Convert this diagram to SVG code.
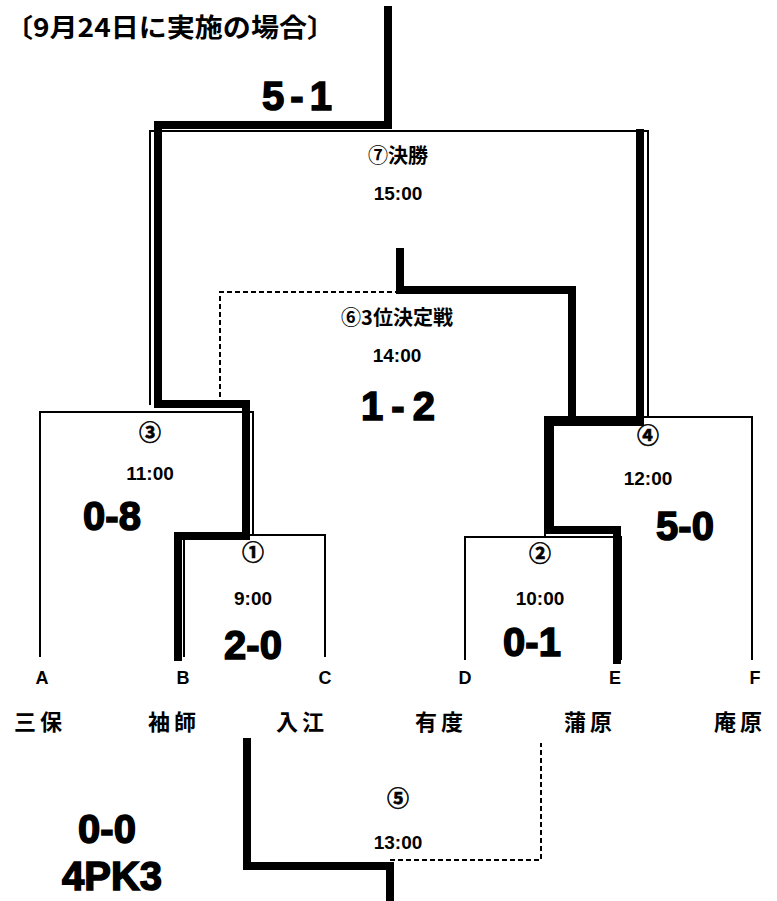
<svg xmlns="http://www.w3.org/2000/svg" width="777" height="901" viewBox="0 0 777 901">
<style>
.thin{fill:none;stroke:#000;stroke-width:2}
.thick{fill:none;stroke:#000;stroke-width:8;stroke-linejoin:miter;stroke-linecap:square}
.dash{fill:none;stroke:#000;stroke-width:2;stroke-dasharray:5 3}
.lbl{font-family:"Noto Sans CJK JP",sans-serif;font-weight:bold;fill:#000;text-anchor:middle}
.circ{font-family:"Noto Sans CJK JP","DejaVu Sans",sans-serif;font-size:22px;font-weight:bold;fill:#000;stroke:#000;stroke-width:0.6;text-anchor:middle}
.time{font-family:"Liberation Sans",sans-serif;font-size:19px;font-weight:bold;fill:#000;text-anchor:middle}
.team{font-family:"Noto Sans CJK JP",sans-serif;font-size:22px;font-weight:bold;fill:#000;text-anchor:middle;letter-spacing:4px}
.letter{font-family:"Liberation Sans",sans-serif;font-size:18px;font-weight:bold;fill:#000;text-anchor:middle}
.score{font-family:"Liberation Sans",sans-serif;font-size:40px;font-weight:bold;fill:#000;stroke:#000;stroke-width:1.5;text-anchor:middle}
</style>
<g id="title"><text x="5" y="37" font-family="'Noto Sans CJK JP',sans-serif" font-size="26" font-weight="bold" textLength="330" lengthAdjust="spacingAndGlyphs">〔9月24日に実施の場合〕</text></g>
<g id="connectors">
<path class="thin" d="M150,405 V131 H648 V417"/>
<path class="thin" d="M40,657 V412 H253 V535"/>
<path class="thin" d="M184,657 V535 H325 V657"/>
<path class="thin" d="M465,660 V537 H621 V660"/>
<path class="thin" d="M545,537 V417 H752 V660"/>
<path class="thick" d="M178,657 V536 H246 V404 H158 V125 H388 V10"/>
<path class="thick" d="M617,660 V530 H550 V422 H640 V133"/>
<path class="thick" d="M572,417 V290 H400 V252"/>
<path class="thick" d="M247,742 V866 H390 V898"/>
<path class="dash" d="M400,292 H220 V405"/>
<path class="dash" d="M390,860 H541 V743"/>
</g>
<g id="match7"><text class="lbl" x="398" y="163" font-size="20">⑦決勝</text><text class="time" x="398" y="200">15:00</text><text class="score" x="300" y="110" letter-spacing="6">5-1</text></g>
<g id="match6"><text class="lbl" x="397" y="325" font-size="20">⑥3位決定戦</text><text class="time" x="397" y="362">14:00</text><text class="score" x="402" y="420" letter-spacing="8">1-2</text></g>
<g id="match3"><text class="circ" x="150" y="440">③</text><text class="time" x="150" y="480">11:00</text><text class="score" x="112" y="530">0-8</text></g>
<g id="match1"><text class="circ" x="253" y="560">①</text><text class="time" x="253" y="605">9:00</text><text class="score" x="253" y="659">2-0</text></g>
<g id="match2"><text class="circ" x="540" y="561">②</text><text class="time" x="540" y="605">10:00</text><text class="score" x="532" y="656">0-1</text></g>
<g id="match4"><text class="circ" x="648" y="443">④</text><text class="time" x="648" y="485">12:00</text><text class="score" x="685" y="540">5-0</text></g>
<g id="match5"><text class="circ" x="398" y="806">⑤</text><text class="time" x="398" y="849">13:00</text><text class="score" x="107" y="843">0-0</text><text class="score" x="112" y="890" font-size="36">4PK3</text></g>
<g id="teamA"><text class="letter" x="42" y="684">A</text><text class="team" x="40" y="730">三保</text></g>
<g id="teamB"><text class="letter" x="183" y="684">B</text><text class="team" x="174" y="730">袖師</text></g>
<g id="teamC"><text class="letter" x="325" y="684">C</text><text class="team" x="302" y="730">入江</text></g>
<g id="teamD"><text class="letter" x="465" y="684">D</text><text class="team" x="441" y="730">有度</text></g>
<g id="teamE"><text class="letter" x="615" y="684">E</text><text class="team" x="590" y="730">蒲原</text></g>
<g id="teamF"><text class="letter" x="755" y="684">F</text><text class="team" x="740" y="730">庵原</text></g>
</svg>
